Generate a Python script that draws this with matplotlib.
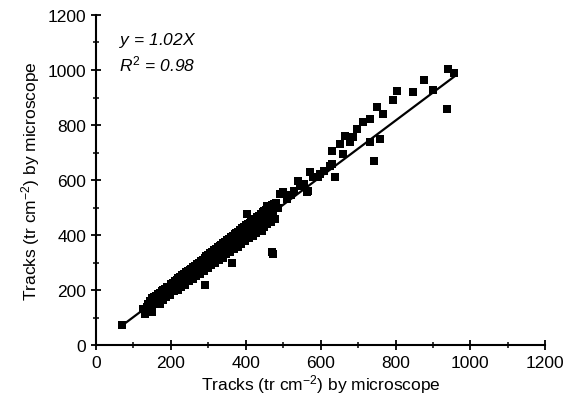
import matplotlib
matplotlib.use('Agg')
import matplotlib.pyplot as plt
from matplotlib.ticker import MultipleLocator

# 字体设置
plt.rcParams['font.family'] = ['Liberation Sans Narrow', 'Liberation Sans', 'DejaVu Sans']
plt.rcParams['mathtext.fontset'] = 'custom'
plt.rcParams['mathtext.rm'] = 'Liberation Sans'
plt.rcParams['mathtext.it'] = 'Liberation Sans:italic'

# 主带（上侧）
band_hi_x = [135, 140, 145, 150, 155, 160, 165, 170, 175, 180, 185, 190, 195, 200, 205, 210,
             215, 220, 225, 230, 235, 240, 245, 250, 255, 260, 265, 270, 275, 280, 285, 290,
             295, 300, 305, 310, 315, 320, 325, 330, 335, 340, 345, 350, 355, 360, 365, 370,
             375, 380, 385, 390, 395, 400, 405, 410, 415, 420, 425, 430, 435, 440, 445, 450,
             455, 460, 465, 470, 475, 480]
band_hi_y = [140, 150, 160, 170, 175, 180, 185, 190, 195, 200, 205, 210, 212, 222, 225, 232,
             236, 245, 248, 255, 258, 265, 268, 272, 278, 285, 288, 295, 300, 305, 310, 318,
             322, 328, 335, 340, 345, 350, 355, 360, 365, 372, 375, 382, 385, 392, 398, 402,
             408, 412, 420, 425, 430, 435, 440, 445, 450, 455, 460, 465, 470, 478, 482, 488,
             492, 498, 500, 508, 512, 518]

# 主带（中间）
band_mid_x = [143, 153, 163, 173, 183, 193, 203, 213, 223, 233, 243, 253, 263, 273, 283, 293,
              303, 313, 323, 333, 343, 353, 363, 373, 383, 393, 403, 413, 423, 433, 443, 453,
              463, 473]
band_mid_y = [148, 158, 168, 178, 188, 198, 208, 218, 228, 240, 250, 258, 270, 280, 290, 300,
              312, 320, 332, 342, 352, 362, 372, 382, 392, 402, 412, 422, 432, 442, 452, 462,
              472, 484]

# 主带（下侧）
band_lo_x = [138, 148, 158, 168, 178, 188, 198, 208, 218, 228, 238, 248, 258, 268, 278, 288,
             298, 308, 318, 328, 338, 348, 358, 368, 378, 388, 398, 408, 418, 428, 438, 448,
             458, 468, 478]
band_lo_y = [128, 138, 150, 158, 165, 175, 183, 195, 200, 212, 220, 232, 240, 250, 258, 268,
             280, 290, 298, 308, 318, 330, 338, 348, 358, 368, 378, 390, 398, 408, 418, 430,
             440, 448, 460]

# 零散点与离群点
extra_x = [70, 126, 131, 150, 171, 291, 364, 404, 430, 444, 457, 470, 473, 485, 492, 500,
           510, 520, 530, 540, 545, 555, 564, 567, 572, 580, 594, 599, 610, 626, 631, 631,
           639, 652, 660, 666, 679, 687, 698, 714, 733, 733, 743, 751, 759, 767, 794, 805,
           848, 877, 901, 938, 941, 955]
extra_y = [72, 131, 113, 120, 149, 218, 298, 476, 458, 415, 505, 337, 331, 500, 549, 556,
           530, 545, 560, 596, 578, 585, 556, 560, 629, 610, 611, 622, 632, 651, 706, 658,
           611, 731, 695, 760, 738, 756, 785, 811, 822, 738, 669, 865, 749, 840, 891, 924,
           920, 964, 927, 858, 1004, 989]

# 回归线 y = 1.02x
slope = 1.02
line_x = [65, 960]

fig = plt.figure(figsize=(5.65, 4.1), dpi=100)
ax = fig.add_axes([0.170, 0.156, 0.795, 0.805])

for xs, ys in [(band_hi_x, band_hi_y), (band_mid_x, band_mid_y),
               (band_lo_x, band_lo_y), (extra_x, extra_y)]:
    ax.scatter(xs, ys, marker='s', s=32, color='black', linewidths=0, zorder=3)

ax.plot(line_x, [slope * v for v in line_x], color='black', lw=1.6, zorder=4)

ax.set_xlim(0, 1200)
ax.set_ylim(0, 1200)
ax.xaxis.set_major_locator(MultipleLocator(200))
ax.xaxis.set_minor_locator(MultipleLocator(100))
ax.yaxis.set_major_locator(MultipleLocator(200))
ax.yaxis.set_minor_locator(MultipleLocator(100))
ax.tick_params(which='major', direction='inout', length=7, width=1.3, labelsize=12.5)
ax.tick_params(which='minor', direction='inout', length=4, width=1.1)

for side in ['top', 'right']:
    ax.spines[side].set_visible(False)
for side in ['left', 'bottom']:
    ax.spines[side].set_linewidth(1.5)

ax.set_xlabel('Tracks (tr cm$^{-2}$) by microscope', fontsize=12.5, labelpad=2)
ax.set_ylabel('Tracks (tr cm$^{-2}$) by microscope', fontsize=12.5, labelpad=4)

ax.text(60, 1110, '$y$ = 1.02$X$', fontsize=12.5, style='italic', va='center')
ax.text(60, 1025, '$R^2$ = 0.98', fontsize=12.5, style='italic', va='center')

plt.savefig('out.png', dpi=100)
